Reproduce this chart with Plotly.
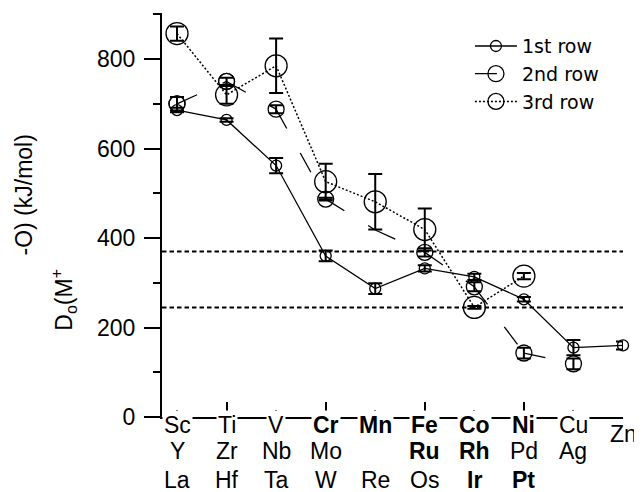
import plotly.graph_objects as go

# ---- data ----
elements_row1 = ["Sc", "Ti", "V", "Cr", "Mn", "Fe", "Co", "Ni", "Cu", "Zn"]
elements_row2 = ["Y", "Zr", "Nb", "Mo", "", "Ru", "Rh", "Pd", "Ag"]
elements_row3 = ["La", "Hf", "Ta", "W", "Re", "Os", "Ir", "Pt"]
bold_labels = {"Cr", "Mn", "Fe", "Co", "Ni", "Ru", "Rh", "Ir", "Pt"}

row1_D = [686, 664, 562, 360, 287, 332, 313, 263, 155, 160]
row1_err = [5, 4, 17, 12, 12, 7, 7, 5, 17, 9]

row2_D = [700, 750, 688, 487, 418, 368, 291, 143, 119]
row2_err = [15, 8, 9, 3, 0, 9, 10, 12, 12]
row2_marked = [True, True, True, True, False, True, True, True, True]

row3_D = [857, 720, 785, 526, 481, 419, 245, 315]
row3_err = [16, 20, 61, 40, 62, 47, 3, 7]

reference_levels = [370, 245]
y_ticks = [0, 200, 400, 600, 800]

FONT = "Liberation Sans, Arial, sans-serif"
FS = 23

fig = go.Figure()

def idx(n):
    return list(range(n))

err_style = dict(type="data", thickness=2, width=7, color="black")

# 1st row
fig.add_trace(go.Scatter(
    x=idx(len(row1_D)), y=row1_D, name="1st row", mode="lines+markers",
    line=dict(color="black", width=1.3),
    marker=dict(symbol="circle-open", size=11, color="black", line=dict(width=1.3)),
    error_y=dict(array=row1_err, **err_style), cliponaxis=False))

# 2nd row: segments (dash pattern restarts at each vertex)
for i in range(len(row2_D) - 1):
    first = i == 0
    fig.add_trace(go.Scatter(
        x=[i, i + 1], y=row2_D[i:i + 2], name="2nd row",
        mode="lines+markers" if first else "lines",
        legendgroup="row2", showlegend=first,
        line=dict(color="black", width=1.3, dash="22px,28px"),
        marker=dict(symbol="circle-open", size=16, color="black", line=dict(width=1.3)),
        cliponaxis=False))

row2_y_marked = [v if m else None for v, m in zip(row2_D, row2_marked)]
fig.add_trace(go.Scatter(
    x=idx(len(row2_D)), y=row2_y_marked, name="2nd row", mode="markers",
    legendgroup="row2", showlegend=False,
    marker=dict(symbol="circle-open", size=16, color="black", line=dict(width=1.3)),
    error_y=dict(array=row2_err, **err_style), cliponaxis=False))

# 3rd row
fig.add_trace(go.Scatter(
    x=idx(len(row3_D)), y=row3_D, name="3rd row", mode="lines+markers",
    line=dict(color="black", width=1.5, dash="2px,2px"),
    marker=dict(symbol="circle-open", size=22, color="black", line=dict(width=1.3)),
    error_y=dict(array=row3_err, **err_style), cliponaxis=False))

for lvl in reference_levels:
    fig.add_hline(y=lvl, line=dict(color="black", width=2, dash="4.5px,3px"))

# x labels
def lab(t):
    return f"<b>{t}</b>" if t in bold_labels else t

for i, t in enumerate(elements_row1):
    fig.add_annotation(x=i, y=0, xref="x", yref="y", text=lab(t), showarrow=False,
                       yshift=-17 if t == "Zn" else -8,
                       bgcolor="white", borderpad=1, font=dict(size=FS))
for i, t in enumerate(elements_row2):
    if t:
        fig.add_annotation(x=i, y=0, xref="x", yref="y", text=lab(t), showarrow=False,
                           yshift=-34, font=dict(size=FS))
for i, t in enumerate(elements_row3):
    fig.add_annotation(x=i, y=0, xref="x", yref="y", text=lab(t), showarrow=False,
                       yshift=-63, font=dict(size=FS))

# y title (split as in original)
fig.add_annotation(text="D<sub>o</sub>(M<sup>+</sup>", textangle=-90, xref="paper", yref="paper",
                   x=-0.215, y=0.29, xanchor="center", yanchor="middle", showarrow=False,
                   font=dict(size=FS))
fig.add_annotation(text="-O) (kJ/mol)", textangle=-90, xref="paper", yref="paper",
                   x=-0.30, y=0.55, xanchor="center", yanchor="middle", showarrow=False,
                   font=dict(size=FS))

fig.update_layout(
    width=634, height=484,
    margin=dict(l=154, r=19, t=5, b=75),
    paper_bgcolor="white", plot_bgcolor="white",
    font=dict(family=FONT, size=FS, color="black"),
    showlegend=True,
    legend=dict(x=0.668, y=0.965, xanchor="left", yanchor="top", bgcolor="rgba(0,0,0,0)",
                font=dict(size=19, family="DejaVu Sans, sans-serif"), tracegroupgap=0,
                itemwidth=42),
    xaxis=dict(range=[-0.303, 9.0], showgrid=False, zeroline=False, showline=True,
               linecolor="black", linewidth=2, tickmode="array", tickvals=[1, 3, 5, 7, 9],
               ticks="inside", ticklen=15, tickwidth=2, tickcolor="black", showticklabels=False,
               minor=dict(tickmode="array", tickvals=[0, 2, 4, 6, 8], ticks="inside",
                          ticklen=7, tickwidth=1.5, tickcolor="black")),
    yaxis=dict(range=[0, 903], showgrid=False, zeroline=False, showline=True,
               linecolor="black", linewidth=2, tickmode="array", tickvals=y_ticks,
               ticks="outside", ticklen=16, tickwidth=2, tickcolor="black",
               ticklabelstandoff=4,
               minor=dict(ticks="outside", ticklen=7, tickwidth=2, dtick=100, tick0=0,
                          tickcolor="black")),
)

fig.write_html("out.html")
